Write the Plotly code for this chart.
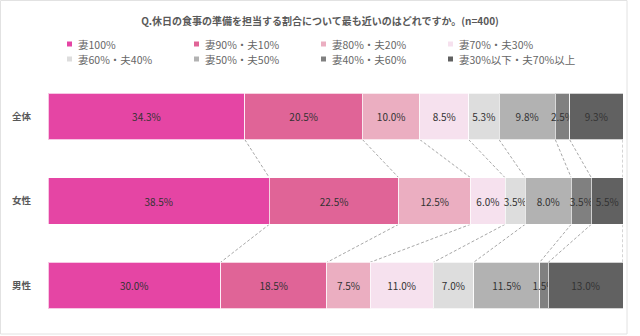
import plotly.graph_objects as go

categories = ["全体", "女性", "男性"]
series_names = ["妻100%", "妻90%・夫10%", "妻80%・夫20%", "妻70%・夫30%",
                "妻60%・夫40%", "妻50%・夫50%", "妻40%・夫60%", "妻30%以下・夫70%以上"]
values = [
    [34.3, 38.5, 30.0],
    [20.5, 22.5, 18.5],
    [10.0, 12.5, 7.5],
    [8.5, 6.0, 11.0],
    [5.3, 3.5, 7.0],
    [9.8, 8.0, 11.5],
    [2.5, 3.5, 1.5],
    [9.3, 5.5, 13.0],
]
colors = ["#E545A4", "#E06497", "#EBAEC1", "#F6E1EE",
          "#DDDDDD", "#B2B2B2", "#808080", "#616161"]
title_text = "Q.休日の食事の準備を担当する割合について最も近いのはどれですか。(n=400)"

FONT = "Noto Sans CJK JP"
W, H = 640, 336
L, R, T, B = 48, 17, 74, 8
PW, PH = W - L - R, H - T - B
BAR_W = 0.55


def px2x(px):
    return (px - L) / PW


def py2y(py):
    return (H - B - py) / PH


fig = go.Figure()
for name, vals, col in zip(series_names, values, colors):
    fig.add_trace(go.Bar(
        y=categories, x=vals, name=name, orientation="h",
        marker=dict(color=col, line=dict(color="rgba(255,255,255,0.7)", width=1)),
        width=BAR_W,
        text=[f"{v:.1f}%" for v in vals],
        textposition="inside", insidetextanchor="middle", textangle=0,
        textfont=dict(family=FONT, size=10, color="#333333"),
        hoverinfo="skip", showlegend=False,
    ))

# connector dashed lines between cumulative boundaries (normalized)
totals = [sum(values[s][c] for s in range(len(values))) for c in range(len(categories))]
cums = []
for c in range(len(categories)):
    acc = 0
    row = []
    for s in range(len(values)):
        acc += values[s][c]
        row.append(acc / totals[c] * 100)
    cums.append(row)

shapes = []
for c in range(len(categories) - 1):
    for s in range(len(values)):
        shapes.append(dict(
            type="line", xref="x", yref="y",
            x0=cums[c][s], y0=c + BAR_W / 2, x1=cums[c + 1][s], y1=c + 1 - BAR_W / 2,
            line=dict(color="#A8A8A8", width=1, dash="3px,2px"), layer="below",
        ))

# legend drawn manually
annotations = []
col_x = [67, 194, 321, 448]
row_y = [44, 59]
for i, (name, col) in enumerate(zip(series_names, colors)):
    mx = col_x[i % 4]
    my = row_y[i // 4]
    shapes.append(dict(type="rect", xref="paper", yref="paper",
                       x0=px2x(mx), x1=px2x(mx + 5), y0=py2y(my - 2.5), y1=py2y(my + 2.5),
                       fillcolor=col, line=dict(width=0)))
    annotations.append(dict(xref="paper", yref="paper", x=px2x(mx + 9), y=py2y(my),
                            xanchor="left", yanchor="middle", showarrow=False, text=name,
                            font=dict(family=FONT, size=10.5, color="#666666")))

# outer border
shapes.append(dict(type="rect", xref="paper", yref="paper",
                   x0=px2x(0.5), x1=px2x(627), y0=py2y(0.5), y1=py2y(334),
                   line=dict(color="#E2E2E2", width=1), fillcolor="rgba(0,0,0,0)"))

fig.update_layout(
    width=W, height=H,
    margin=dict(l=L, r=R, t=T, b=B),
    barmode="stack", barnorm="percent",
    paper_bgcolor="white", plot_bgcolor="white",
    title=dict(text=f"<b>{title_text}</b>", x=0.5, xref="container", xanchor="center",
               y=1 - 21.5 / H, yanchor="middle", yref="container",
               font=dict(family=FONT, size=10, color="#595959")),
    xaxis=dict(range=[0, 100], visible=False, fixedrange=True),
    yaxis=dict(categoryorder="array", categoryarray=categories, autorange="reversed",
               showgrid=False, zeroline=False, showline=False, ticks="",
               ticklabelstandoff=16,
               tickfont=dict(family=FONT, size=9.5, color="#595959", weight="bold"),
               fixedrange=True),
    uniformtext=dict(minsize=10, mode="show"),
    shapes=shapes, annotations=annotations,
    showlegend=False,
)

fig.write_html("out.html")
